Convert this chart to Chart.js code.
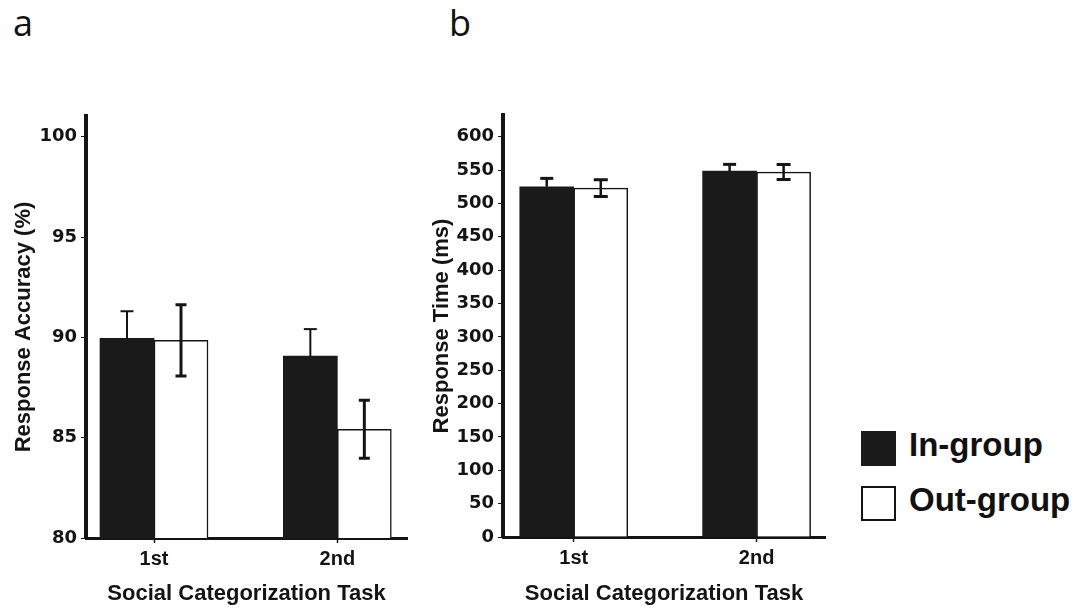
<!DOCTYPE html>
<html>
<head>
<meta charset="utf-8">
<script src="https://cdn.jsdelivr.net/npm/chart.js@4.4.1/dist/chart.umd.min.js"></script>
<style>
  html, body { margin: 0; padding: 0; background: #fff; }
  body { width: 1082px; height: 609px; position: relative; overflow: hidden; }
  canvas { position: absolute; top: 0; }
  #chartA { left: 0; }
  #chartB { left: 420px; }
  .panel-tag { position: absolute; font-family: 'Open Sans', sans-serif; font-size: 36px; line-height: 36px; color: #111; }
  .legend-item { position: absolute; left: 861px; height: 35px; }
  .legend-box { position: absolute; left: 0; top: 0; width: 35px; height: 35px; box-sizing: border-box; }
  .legend-text { position: absolute; left: 48px; top: -3px; font-family: 'Liberation Sans', Arial, sans-serif; font-weight: bold; font-size: 33px; line-height: 33px; color: #111; white-space: nowrap; }
</style>
</head>
<body>
<div class="panel-tag" style="left:13px; top:5px;">a</div>
<div class="panel-tag" style="left:449px; top:5px;">b</div>
<canvas id="chartA" width="420" height="609"></canvas>
<canvas id="chartB" width="420" height="609"></canvas>
<div id="legend"></div>
<script>
// Experiment conditions and groups
const categories = ['1st', '2nd'];
const seriesNames = ['In-group', 'Out-group'];

// Panel a: response accuracy (%), means and error bars
const accuracyIn = [89.95, 89.07];
const accuracyOut = [89.85, 85.42];
const accuracyInErr = [1.35, 1.34];
const accuracyOutErr = [1.78, 1.45];
const accuracyTicks = [80, 85, 90, 95, 100];

// Panel b: response time (ms), means and error bars
const rtIn = [525, 548.5];
const rtOut = [523, 547];
const rtInErr = [12.5, 10];
const rtOutErr = [12.5, 11.2];
const rtTicks = [0, 50, 100, 150, 200, 250, 300, 350, 400, 450, 500, 550, 600];

const INK = '#141414';
const CANVAS_H = 609;

// Draws error bars above each bar (one-sided or two-sided per dataset)
const errorBars = {
  id: 'errorBars',
  afterDatasetsDraw(chart, args, opts) {
    const ctx = chart.ctx;
    const yScale = chart.scales.y;
    chart.data.datasets.forEach((ds, di) => {
      const meta = chart.getDatasetMeta(di);
      const st = opts.styles[di];
      meta.data.forEach((bar, i) => {
        const v = ds.data[i].y;
        const e = ds.errors[i];
        const yTop = yScale.getPixelForValue(v + e);
        const yBot = st.both ? yScale.getPixelForValue(v - e) : bar.y;
        ctx.save();
        ctx.strokeStyle = INK;
        ctx.lineCap = 'butt';
        ctx.lineWidth = st.stem;
        ctx.beginPath();
        ctx.moveTo(bar.x, yTop);
        ctx.lineTo(bar.x, yBot);
        ctx.stroke();
        ctx.lineWidth = st.cap;
        ctx.beginPath();
        ctx.moveTo(bar.x - st.capWidth / 2, yTop);
        ctx.lineTo(bar.x + st.capWidth / 2, yTop);
        if (st.both) {
          ctx.moveTo(bar.x - st.capWidth / 2, yBot);
          ctx.lineTo(bar.x + st.capWidth / 2, yBot);
        }
        ctx.stroke();
        ctx.restore();
      });
    });
  }
};

function buildChart(canvasId, p) {
  const toPoints = vals => vals.map((v, i) => ({ x: i + 1, y: v }));
  return new Chart(document.getElementById(canvasId), {
    type: 'bar',
    data: {
      datasets: [
        {
          label: seriesNames[0],
          data: toPoints(p.inVals),
          errors: p.inErr,
          backgroundColor: '#1a1a1a',
          borderWidth: 0,
          barThickness: 54
        },
        {
          label: seriesNames[1],
          data: toPoints(p.outVals),
          errors: p.outErr,
          backgroundColor: '#ffffff',
          borderColor: INK,
          borderWidth: 1.5,
          borderSkipped: 'bottom',
          barThickness: 54
        }
      ]
    },
    options: {
      responsive: false,
      animation: false,
      devicePixelRatio: 1,
      layout: { padding: { left: 0, right: p.padRight, top: p.top, bottom: 0 } },
      plugins: {
        legend: { display: false },
        tooltip: { enabled: false },
        errorBars: { styles: p.errStyles }
      },
      scales: {
        x: {
          type: 'linear',
          min: p.xMin,
          max: p.xMax,
          offset: false,
          afterBuildTicks: s => { s.ticks = categories.map((c, i) => ({ value: i + 1 })); },
          afterFit: s => { s.height = CANVAS_H - p.bottom; },
          ticks: {
            callback: v => categories[v - 1] ?? '',
            font: { family: "'Liberation Sans', Arial, sans-serif", weight: 'bold', size: 20 },
            color: INK,
            padding: 4,
            maxRotation: 0,
            autoSkip: false
          },
          grid: { drawOnChartArea: false, drawTicks: true, tickLength: 5, tickColor: INK, tickWidth: 1.5, offset: false },
          border: { display: true, color: INK, width: 3 },
          title: {
            display: true,
            text: 'Social Categorization Task',
            font: { family: "'Liberation Sans', Arial, sans-serif", weight: 'bold', size: 22 },
            color: INK,
            padding: { top: 0, bottom: 2 }
          }
        },
        y: {
          min: p.yMin,
          max: p.yMax,
          afterBuildTicks: s => { s.ticks = p.yTicks.map(v => ({ value: v })); },
          afterFit: s => { s.width = p.left; },
          ticks: {
            font: { family: "'DejaVu Sans', sans-serif", weight: 'bold', size: 18 },
            color: INK,
            padding: 4
          },
          grid: { drawOnChartArea: false, drawTicks: true, tickLength: 5, tickColor: INK, tickWidth: 1 },
          border: { display: true, color: INK, width: 4 },
          title: {
            display: true,
            text: p.yTitle,
            font: { family: "'Liberation Sans', Arial, sans-serif", weight: 'bold', size: 22 },
            color: INK,
            padding: { top: p.yTitlePad, bottom: 0 }
          }
        }
      }
    },
    plugins: [errorBars]
  });
}

buildChart('chartA', {
  inVals: accuracyIn, outVals: accuracyOut,
  inErr: accuracyInErr, outErr: accuracyOutErr,
  yMin: 80, yMax: 101.03, yTicks: accuracyTicks,
  yTitle: 'Response Accuracy (%)', yTitlePad: 11,
  xMin: 0.629, xMax: 2.38,
  left: 86, padRight: 13, top: 116, bottom: 538,
  errStyles: [
    { both: false, stem: 2, cap: 2, capWidth: 13 },
    { both: true, stem: 3, cap: 3, capWidth: 11 }
  ]
});

buildChart('chartB', {
  inVals: rtIn, outVals: rtOut,
  inErr: rtInErr, outErr: rtOutErr,
  yMin: 0, yMax: 632.5, yTicks: rtTicks,
  yTitle: 'Response Time (ms)', yTitlePad: 9,
  xMin: 0.613, xMax: 2.374,
  left: 83, padRight: 15, top: 115, bottom: 537,
  errStyles: [
    { both: false, stem: 2.5, cap: 3, capWidth: 13 },
    { both: true, stem: 2.5, cap: 3, capWidth: 14 }
  ]
});

// Legend built from the series names
const legendFills = [
  { background: '#1a1a1a', border: 'none' },
  { background: '#ffffff', border: '2px solid ' + INK }
];
const legendTops = [431, 486];
const legend = document.getElementById('legend');
seriesNames.forEach((name, i) => {
  const item = document.createElement('div');
  item.className = 'legend-item';
  item.style.top = legendTops[i] + 'px';
  const box = document.createElement('div');
  box.className = 'legend-box';
  box.style.background = legendFills[i].background;
  box.style.border = legendFills[i].border;
  const text = document.createElement('div');
  text.className = 'legend-text';
  text.textContent = name;
  item.appendChild(box);
  item.appendChild(text);
  legend.appendChild(item);
});
</script>
</body>
</html>
